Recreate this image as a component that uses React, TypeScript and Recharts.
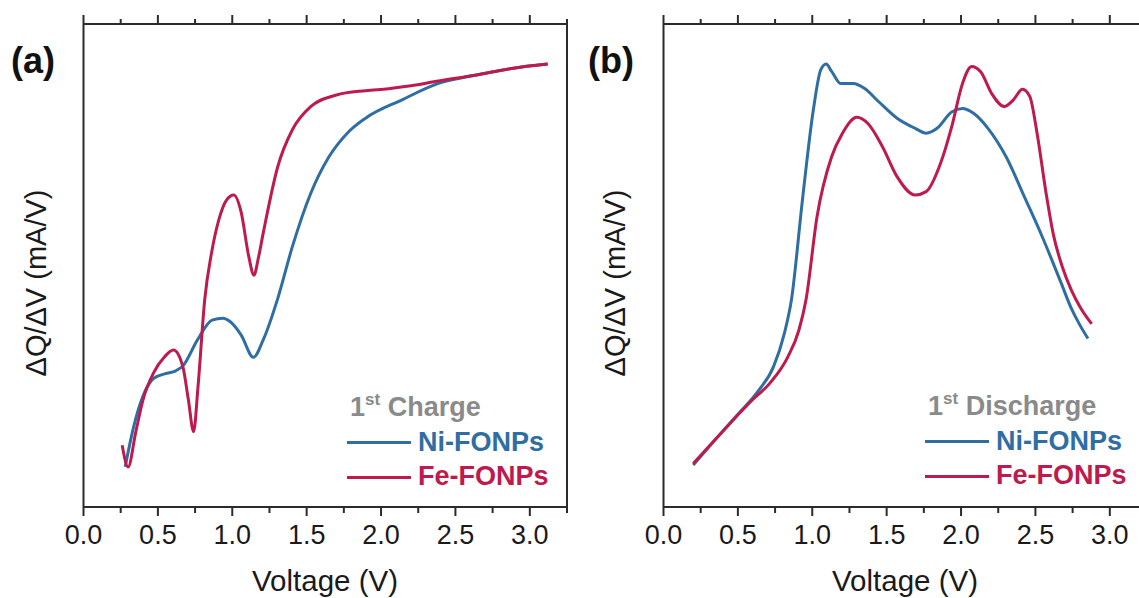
import { LineChart, Line, XAxis, YAxis } from 'recharts'

const NI = '#2f6ea3'
const FE = '#be1a4e'
const GRAY = '#8a8a8a'
const AXIS = '#2b2b2b'
const FONT = '"Liberation Sans", Arial, sans-serif'

// x ticks every 0.25 V, labels on the 0.5 V ones
const xTicks = [0, 0.25, 0.5, 0.75, 1, 1.25, 1.5, 1.75, 2, 2.25, 2.5, 2.75, 3, 3.25]

// (a) 1st charge
const chargeNiV = [0.28, 0.337, 0.398, 0.47, 0.55, 0.62, 0.668, 0.766, 0.864, 0.938, 0.985, 1.06, 1.142, 1.208, 1.306, 1.404, 1.527, 1.65, 1.773, 1.896, 2.141, 2.386, 2.632, 2.878, 3.12]
const chargeNiQ = [8.3, 16.6, 22.8, 26.6, 27.6, 28.2, 29.2, 34.6, 38.7, 39.1, 38.4, 35.6, 31.0, 34.6, 43.2, 53.9, 64.9, 72.5, 77.4, 80.5, 84.3, 87.7, 89.4, 90.8, 91.7]
const chargeFeV = [0.26, 0.3, 0.35, 0.4, 0.47, 0.545, 0.605, 0.668, 0.705, 0.74, 0.77, 0.815, 0.86, 0.91, 0.96, 1.01, 1.06, 1.11, 1.146, 1.175, 1.208, 1.306, 1.404, 1.527, 1.7, 1.896, 2.05, 2.2, 2.386, 2.632, 2.878, 3.12]
const chargeFeQ = [12.8, 8.3, 15.3, 22.2, 27.7, 31.1, 32.5, 29.0, 22.2, 15.6, 25.0, 43.0, 52.5, 59.5, 63.5, 64.6, 61.0, 52.0, 48.0, 51.5, 56.7, 70.5, 78.1, 82.9, 85.3, 86.2, 86.6, 87.2, 88.2, 89.4, 90.8, 91.7]

// (b) 1st discharge
const dischargeNiV = [0.2, 0.347, 0.494, 0.641, 0.739, 0.812, 0.86, 0.934, 1.007, 1.057, 1.093, 1.13, 1.19, 1.276, 1.35, 1.447, 1.57, 1.692, 1.766, 1.839, 1.937, 2.01, 2.084, 2.181, 2.303, 2.426, 2.548, 2.67, 2.743, 2.8, 2.853]
const dischargeNiQ = [8.7, 13.9, 19.0, 24.2, 29.0, 35.9, 42.9, 63.6, 82.2, 90.5, 91.7, 90.2, 87.7, 87.7, 86.7, 83.9, 80.5, 78.4, 77.4, 78.4, 81.8, 82.5, 81.5, 78.4, 72.5, 64.2, 55.8, 46.6, 41.0, 37.6, 34.9]
const dischargeFeV = [0.2, 0.396, 0.592, 0.714, 0.836, 0.91, 0.958, 1.032, 1.13, 1.203, 1.3, 1.374, 1.472, 1.57, 1.692, 1.766, 1.863, 1.937, 2.01, 2.071, 2.132, 2.206, 2.291, 2.352, 2.413, 2.462, 2.511, 2.572, 2.62, 2.68, 2.74, 2.8, 2.878]
const dischargeFeQ = [9.0, 15.6, 22.0, 25.6, 31.1, 36.6, 42.9, 60.1, 72.5, 77.4, 80.7, 79.4, 74.6, 68.4, 64.6, 65.3, 71.2, 78.7, 87.7, 91.2, 90.1, 85.6, 82.9, 84.3, 86.5, 85.0, 77.4, 64.9, 56.5, 49.8, 45.0, 41.4, 37.9]

const toPoints = (vs: number[], qs: number[]) => vs.map((v, i) => ({ v, q: qs[i] }))

const isMajor = (v: number) => Math.abs(v * 2 - Math.round(v * 2)) < 1e-6

const BottomTick = (props: any) => {
  const { x, y, payload } = props
  const major = isMajor(payload.value)
  return (
    <g>
      <line x1={x} x2={x} y1={y} y2={y + (major ? 9 : 6)} stroke={AXIS} strokeWidth={2} />
      {major && payload.value < 3.1 && (
        <text x={x} y={y + 37} textAnchor="middle" fontSize={27} fill="#1a1a1a">
          {payload.value.toFixed(1)}
        </text>
      )}
    </g>
  )
}

const TopTick = (props: any) => {
  const { x, y, payload } = props
  const major = isMajor(payload.value)
  return <line x1={x} x2={x} y1={y} y2={y - (major ? 9 : 5)} stroke={AXIS} strokeWidth={2} />
}

function Panel({ ni, fe, left, rightSpine }: { ni: any[]; fe: any[]; left: number; rightSpine: boolean }) {
  const axisLine = { stroke: AXIS, strokeWidth: 2 }
  return (
    <div style={{ position: 'absolute', left, top: 0 }}>
      <LineChart width={570} height={598} margin={{ top: 14, right: 2, bottom: 61, left: 82.5 }}>
        <XAxis
          dataKey="v" type="number" domain={[0, 3.25]} ticks={xTicks} interval={0} allowDataOverflow
          height={30} tickSize={0} tickMargin={0} tickLine={false} axisLine={axisLine} tick={BottomTick}
        />
        <XAxis
          xAxisId="top" orientation="top" dataKey="v" type="number" domain={[0, 3.25]} ticks={xTicks} interval={0}
          allowDataOverflow height={10} tickSize={0} tickMargin={0} tickLine={false} axisLine={axisLine} tick={TopTick}
        />
        <YAxis domain={[0, 100]} width={1} tick={false} tickLine={false} axisLine={axisLine} />
        <YAxis
          yAxisId="r" orientation="right" domain={[0, 100]} width={1} tick={false} tickLine={false}
          axisLine={rightSpine ? axisLine : false}
        />
        <Line data={ni} dataKey="q" type="monotone" stroke={NI} strokeWidth={3} dot={false} isAnimationActive={false} />
        <Line data={fe} dataKey="q" type="monotone" stroke={FE} strokeWidth={3} dot={false} isAnimationActive={false} />
      </LineChart>
    </div>
  )
}

function Legend({ x, y, title }: { x: number; y: number; title: string }) {
  return (
    <g fontWeight="bold">
      <text x={x + 3} y={y} fontSize={27} fill={GRAY}>
        1<tspan fontSize={17} dy={-11}>st</tspan>
        <tspan fontSize={27} dy={11}>{' ' + title}</tspan>
      </text>
      <line x1={x} x2={x + 64} y1={y + 26.5} y2={y + 26.5} stroke={NI} strokeWidth={3} />
      <text x={x + 71} y={y + 35} fontSize={27} fill={NI}>Ni-FONPs</text>
      <line x1={x} x2={x + 64} y1={y + 61.5} y2={y + 61.5} stroke={FE} strokeWidth={3} />
      <text x={x + 71} y={y + 69} fontSize={27} fill={FE}>Fe-FONPs</text>
    </g>
  )
}

export default function App() {
  return (
    <div
      style={{
        position: 'absolute', left: 0, top: 0, width: 1139, height: 598,
        overflow: 'hidden', background: '#fff', fontFamily: FONT,
      }}
    >
      <Panel ni={toPoints(chargeNiV, chargeNiQ)} fe={toPoints(chargeFeV, chargeFeQ)} left={0} rightSpine />
      <Panel ni={toPoints(dischargeNiV, dischargeNiQ)} fe={toPoints(dischargeFeV, dischargeFeQ)} left={580} rightSpine={false} />
      <svg width={1139} height={598} style={{ position: 'absolute', left: 0, top: 0, pointerEvents: 'none' }}>
        <text x={11} y={73} fontSize={36} fontWeight="bold" fill="#111">(a)</text>
        <text x={588} y={73} fontSize={36} fontWeight="bold" fill="#111">(b)</text>
        <text transform="translate(46,283) rotate(-90)" textAnchor="middle" fontSize={29} fill="#1a1a1a">ΔQ/ΔV (mA/V)</text>
        <text transform="translate(625,283) rotate(-90)" textAnchor="middle" fontSize={29} fill="#1a1a1a">ΔQ/ΔV (mA/V)</text>
        <text x={325} y={591} textAnchor="middle" fontSize={29.5} fill="#1a1a1a">Voltage (V)</text>
        <text x={905} y={591} textAnchor="middle" fontSize={29.5} fill="#1a1a1a">Voltage (V)</text>
        <Legend x={347} y={416} title="Charge" />
        <Legend x={925} y={415} title="Discharge" />
      </svg>
    </div>
  )
}
